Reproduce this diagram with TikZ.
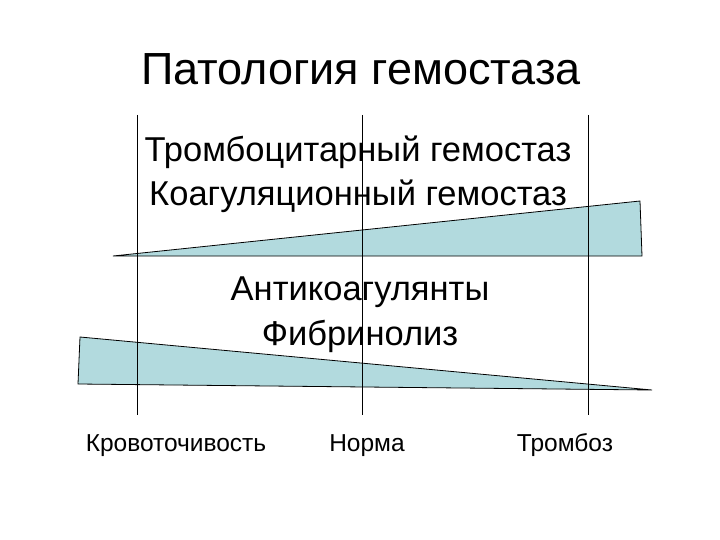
\documentclass[tikz,border=0pt]{standalone}
\usepackage{fontspec}
\setmainfont{Liberation Sans}
\definecolor{wedge}{RGB}{178,218,222}
\begin{document}
\begin{tikzpicture}[x=1pt,y=-1pt,
  vline/.style={draw=black,line width=0.8pt},
  wedgebox/.style={draw=black,fill=wedge,line width=0.8pt},
  big/.style={font=\fontsize{45}{48}\selectfont,anchor=base},
  mid/.style={font=\fontsize{34.5}{38}\selectfont,anchor=base},
  small/.style={font=\fontsize{24.5}{28}\selectfont,anchor=base}]
\useasboundingbox (0,0) rectangle (720,540);
\node[big] (title) at (361,85) {Патология гемостаза};
\draw[wedgebox] (113,256) -- (640,201) -- (642,256) -- cycle;
\draw[wedgebox] (80,337) -- (652,390) -- (78,384) -- cycle;
\coordinate (a1) at (137,115); \coordinate (a2) at (137,415);
\coordinate (b1) at (362,115); \coordinate (b2) at (362,415);
\coordinate (c1) at (588,115); \coordinate (c2) at (588,415);
\draw[vline] (a1) -- (a2);
\draw[vline] (b1) -- (b2);
\draw[vline] (c1) -- (c2);
\node[mid] (t1) at (358,162) {Тромбоцитарный гемостаз};
\node[mid] (t2) at (358,206) {Коагуляционный гемостаз};
\node[mid] (t3) at (360,300) {Антикоагулянты};
\node[mid] (t4) at (360,345) {Фибринолиз};
\node[small] (l1) at (176,451) {Кровоточивость};
\node[small] (l2) at (367,451) {Норма};
\node[small] (l3) at (565,451) {Тромбоз};
\end{tikzpicture}
\end{document}
